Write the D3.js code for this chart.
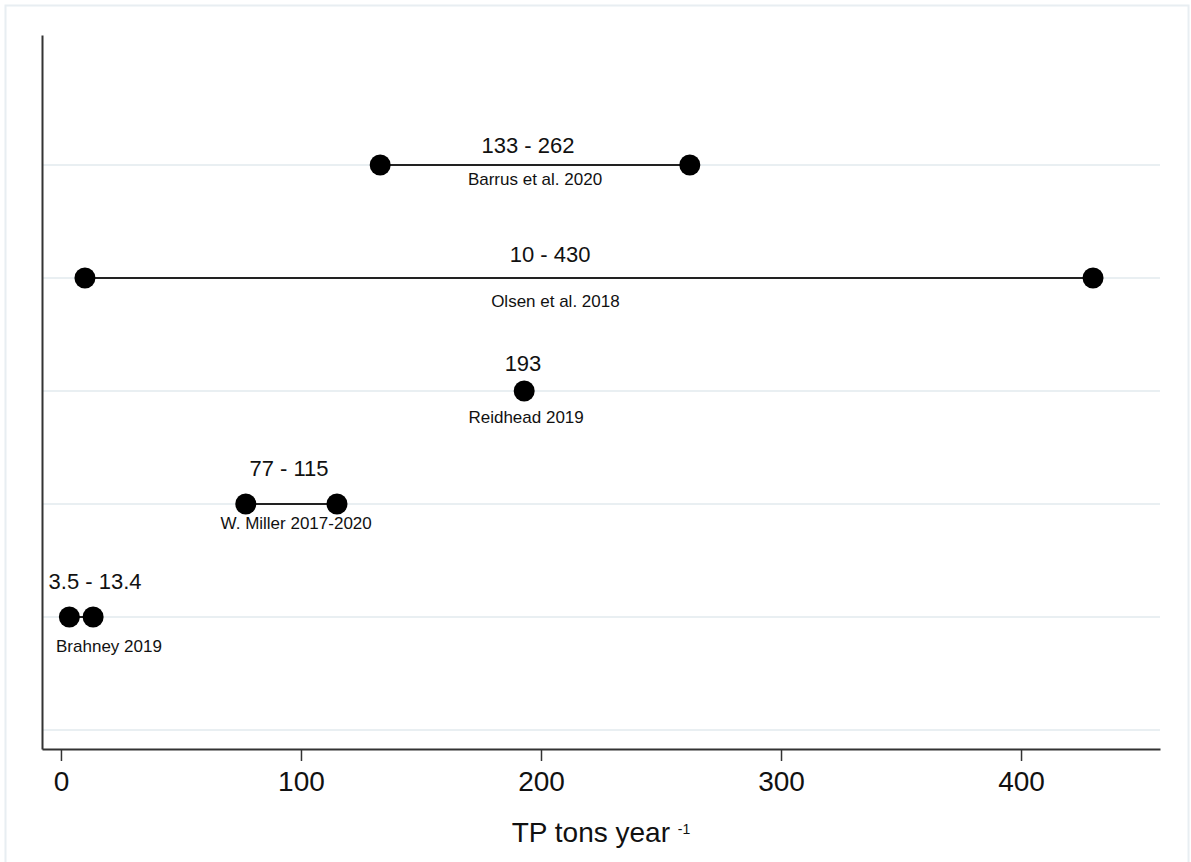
<!DOCTYPE html>
<html>
<head>
<meta charset="utf-8">
<script src="https://cdn.jsdelivr.net/npm/d3@7"></script>
<style>
  body { margin: 0; background: #fff; }
  svg { display: block; font-family: Helvetica, Arial, "Liberation Sans", sans-serif; }
</style>
</head>
<body>
<svg id="chart"></svg>
<script>
// Estimations of TP loads, one row per study (top to bottom)
const studies = ["Barrus et al. 2020", "Olsen et al. 2018", "Reidhead 2019", "W. Miller 2017-2020", "Brahney 2019"];
const lowValues = [133, 10, 193, 77, 3.5];
const highValues = [262, 430, 193, 115, 13.4];
const rangeLabels = ["133 - 262", "10 - 430", "193", "77 - 115", "3.5 - 13.4"];
const xTicks = [0, 100, 200, 300, 400];
const gridRows = [0, 1, 2, 3, 4, 5];

// where the text annotations sit (x in data units, dy in rows), as in the original
const valueLabelAt = [194.6, 203.8, 192.5, 95, 14.2];
const valueLabelDy = [-0.11, -0.14, -0.18, -0.25, -0.25];
const studyLabelAt = [197.5, 206, 193.8, 98, 20];
const studyLabelDy = [0.18, 0.26, 0.28, 0.22, 0.31];

const width = 1191;
const height = 862;
const margin = { top: 35, right: 31, bottom: 113, left: 42 };

const svg = d3.select("#chart")
  .attr("width", width)
  .attr("height", height);

// faint outer frame
svg.append("rect")
  .attr("x", 5.5)
  .attr("y", 5.5)
  .attr("width", 1183)
  .attr("height", 870)
  .attr("fill", "none")
  .attr("stroke", "#e8eef2")
  .attr("stroke-width", 2);

const x = d3.scaleLinear()
  .domain([-7.9, 457.9])
  .range([margin.left, width - margin.right]);

const y = d3.scaleLinear()
  .domain([-1.15, 5.168])
  .range([margin.top, height - margin.bottom]);

// grid lines
svg.append("g")
  .selectAll("line")
  .data(gridRows)
  .join("line")
  .attr("x1", x.range()[0])
  .attr("x2", x.range()[1])
  .attr("y1", (d) => y(d))
  .attr("y2", (d) => y(d))
  .attr("stroke", "#e9eff2")
  .attr("stroke-width", 2);

// axes
const xAxis = svg.append("g")
  .attr("transform", `translate(0,${y.range()[1]})`)
  .call(d3.axisBottom(x).tickValues(xTicks).tickSize(12).tickSizeOuter(0).tickPadding(10));
xAxis.select(".domain").attr("stroke", "#333").attr("stroke-width", 2);
xAxis.selectAll(".tick line").attr("stroke", "#333").attr("stroke-width", 1.5);
xAxis.selectAll(".tick text")
  .attr("font-size", "28px")
  .attr("font-family", "Helvetica, Arial, 'Liberation Sans', sans-serif")
  .attr("fill", "#111");

const yAxis = svg.append("g")
  .attr("transform", `translate(${x.range()[0]},0)`)
  .call(d3.axisLeft(y).tickValues([]).tickSizeOuter(0));
yAxis.select(".domain").attr("stroke", "#333").attr("stroke-width", 2);

// axis title
const title = svg.append("text")
  .attr("x", (x.range()[0] + x.range()[1]) / 2)
  .attr("y", 842)
  .attr("text-anchor", "middle")
  .attr("font-size", "28px")
  .attr("fill", "#111");
title.append("tspan").text("TP tons year ");
title.append("tspan")
  .attr("font-size", "14px")
  .attr("dy", "-8")
  .text("-1");

const rows = studies.map((s, i) => ({
  study: s,
  low: lowValues[i],
  high: highValues[i],
  label: rangeLabels[i],
  row: i,
}));

// range lines
svg.append("g")
  .selectAll("line")
  .data(rows)
  .join("line")
  .attr("x1", (d) => x(d.low))
  .attr("x2", (d) => x(d.high))
  .attr("y1", (d) => y(d.row))
  .attr("y2", (d) => y(d.row))
  .attr("stroke", "#222")
  .attr("stroke-width", 2);

// end points
const points = rows.flatMap((d) =>
  d.low === d.high ? [{ v: d.low, row: d.row }] : [{ v: d.low, row: d.row }, { v: d.high, row: d.row }]
);
svg.append("g")
  .selectAll("circle")
  .data(points)
  .join("circle")
  .attr("cx", (d) => x(d.v))
  .attr("cy", (d) => y(d.row))
  .attr("r", 10.5)
  .attr("fill", "#000");

// value labels
svg.append("g")
  .selectAll("text")
  .data(rows)
  .join("text")
  .attr("x", (d, i) => x(valueLabelAt[i]))
  .attr("y", (d, i) => y(d.row + valueLabelDy[i]))
  .attr("text-anchor", "middle")
  .attr("font-size", "22px")
  .attr("fill", "#111")
  .text((d) => d.label);

// study labels
svg.append("g")
  .selectAll("text")
  .data(rows)
  .join("text")
  .attr("x", (d, i) => x(studyLabelAt[i]))
  .attr("y", (d, i) => y(d.row + studyLabelDy[i]))
  .attr("text-anchor", "middle")
  .attr("font-size", "17px")
  .attr("fill", "#111")
  .text((d) => d.study);
</script>
</body>
</html>
